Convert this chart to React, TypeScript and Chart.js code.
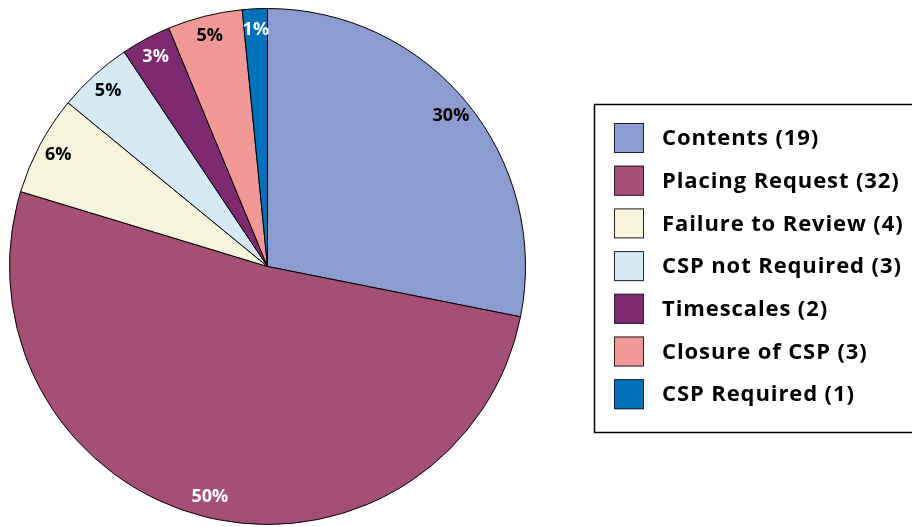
import React, { useEffect, useRef } from "react";
import { Chart, registerables } from "chart.js";

Chart.register(...registerables);

const categories = [
  "Contents (19)",
  "Placing Request (32)",
  "Failure to Review (4)",
  "CSP not Required (3)",
  "Timescales (2)",
  "Closure of CSP (3)",
  "CSP Required (1)",
];
const sliceValues = [18, 33, 4, 3, 2, 3, 1];
const percentLabels = ["30%", "50%", "6%", "5%", "3%", "5%", "1%"];
const colors = ["#8D9CD0", "#A64F74", "#F5F4DC", "#D6EAF6", "#7E2A70", "#F09896", "#0071BB"];
const labelColors = ["#000", "#fff", "#000", "#000", "#fff", "#000", "#fff"];

const FONT = "'Open Sans', 'DejaVu Sans', sans-serif";

const labelPlugin = {
  id: "sliceLabels",
  afterDatasetsDraw(chart: any) {
    const ctx = chart.ctx;
    const meta = chart.getDatasetMeta(0);
    ctx.save();
    ctx.font = `bold 18px ${FONT}`;
    ctx.textAlign = "center";
    ctx.textBaseline = "middle";
    meta.data.forEach((arc: any, i: number) => {
      const mid = (arc.startAngle + arc.endAngle) / 2;
      const r = arc.outerRadius * 0.92;
      const x = arc.x + Math.cos(mid) * r;
      const y = arc.y + Math.sin(mid) * r;
      ctx.fillStyle = labelColors[i];
      ctx.fillText(percentLabels[i], x, y);
    });
    ctx.restore();
  },
};

const legendPlugin = {
  id: "boxLegend",
  afterDraw(chart: any) {
    const ctx = chart.ctx;
    ctx.save();
    ctx.strokeStyle = "#000";
    ctx.lineWidth = 1.5;
    ctx.strokeRect(594.5, 104.5, 340, 328);
    const labels = chart.data.labels as string[];
    const bg = chart.data.datasets[0].backgroundColor as string[];
    ctx.font = `bold 22px ${FONT}`;
    (ctx as any).letterSpacing = "0.9px";
    ctx.textBaseline = "middle";
    ctx.textAlign = "left";
    labels.forEach((lab, i) => {
      const cy = 138 + i * 42.7;
      ctx.fillStyle = bg[i];
      ctx.fillRect(614, cy - 15, 30, 30);
      ctx.lineWidth = 1;
      ctx.strokeStyle = "#222";
      ctx.strokeRect(614.5, cy - 14.5, 29, 29);
      ctx.fillStyle = "#000";
      ctx.fillText(lab, 662, cy + 1);
    });
    ctx.restore();
  },
};

export default function App() {
  const ref = useRef<HTMLCanvasElement | null>(null);
  useEffect(() => {
    document.body.style.margin = "0";
    const chart = new Chart(ref.current!, {
      type: "pie",
      data: {
        labels: categories,
        datasets: [
          {
            data: sliceValues,
            backgroundColor: colors,
            borderColor: "#000",
            borderWidth: 1,
          },
        ],
      },
      options: {
        animation: false,
        responsive: false,
        maintainAspectRatio: false,
        layout: { padding: { left: 9, top: 8, right: 386, bottom: 2 } },
        plugins: {
          legend: { display: false },
          tooltip: { enabled: false },
        },
      },
      plugins: [labelPlugin, legendPlugin],
    });
    return () => chart.destroy();
  }, []);
  return (
    <div style={{ width: 912, height: 527 }}>
      <canvas ref={ref} width={912} height={527} style={{ display: "block" }} />
    </div>
  );
}
